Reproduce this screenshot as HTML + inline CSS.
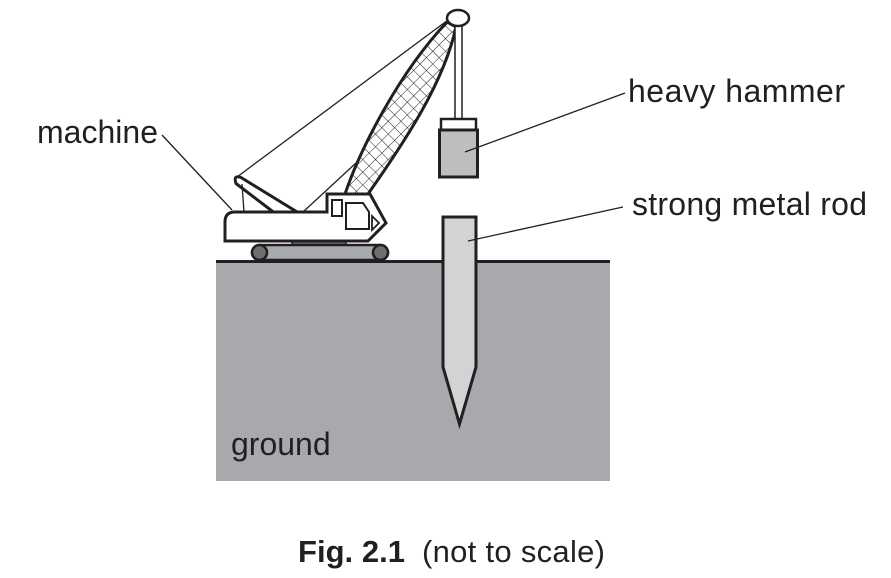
<!DOCTYPE html>
<html><head><meta charset="utf-8"><style>
html,body{margin:0;padding:0;background:#fff;}
svg{display:block;}
text{font-family:"Liberation Sans",Arial,sans-serif;fill:#231f20;}
</style></head><body>
<svg width="891" height="578" viewBox="0 0 891 578" xmlns="http://www.w3.org/2000/svg">
<defs>
<pattern id="hatch" patternUnits="userSpaceOnUse" width="9" height="9" patternTransform="rotate(45)">
<rect width="9" height="9" fill="#fff"/>
<path d="M0,0 H9 M0,0 V9" stroke="#231f20" stroke-width="1" fill="none"/>
</pattern>
</defs>
<!-- ground -->
<rect x="216" y="262" width="394" height="219" fill="#a7a9ac"/>
<line x1="216" y1="261.5" x2="610" y2="261.5" stroke="#231f20" stroke-width="3"/>
<text x="231" y="455" font-size="32">ground</text>

<!-- backstay -->
<line x1="237" y1="177" x2="448" y2="20" stroke="#231f20" stroke-width="1.3"/>
<line x1="303" y1="212" x2="356" y2="163" stroke="#231f20" stroke-width="1.3"/>

<!-- boom -->
<path d="M345,194 C360,150 398,74 447,22 L456,27 C444,82 406,140 368,194 Z" fill="url(#hatch)" stroke="#231f20" stroke-width="3" stroke-linejoin="round"/>

<!-- cable -->
<rect x="455" y="24" width="7" height="95" fill="#fff" stroke="#231f20" stroke-width="1.5"/>
<!-- pulley -->
<ellipse cx="458" cy="18" rx="11" ry="8" fill="#fff" stroke="#231f20" stroke-width="2.5"/>

<!-- hammer -->
<rect x="441" y="119" width="35" height="11" fill="#fff" stroke="#231f20" stroke-width="2.5"/>
<rect x="439.5" y="130" width="38" height="47" fill="#bcbec0" stroke="#231f20" stroke-width="3"/>

<!-- rod -->
<path d="M443,217 L476,217 L476,367 L459.5,424 L443,367 Z" fill="#d1d3d4" stroke="#231f20" stroke-width="3" stroke-linejoin="miter"/>

<!-- gantry -->
<path d="M298,212.5 L241,177.5 Q233,174.5 236,183.5 L274,212.5" fill="#fff" stroke="#231f20" stroke-width="3" stroke-linejoin="round"/>
<line x1="242" y1="184" x2="244" y2="212" stroke="#231f20" stroke-width="1.3"/>

<!-- track strip -->
<rect x="292" y="240.5" width="54" height="4.5" fill="#6d6e71" stroke="#231f20" stroke-width="1.5"/>
<!-- tracks -->
<rect x="252" y="245" width="136" height="15" rx="7.5" fill="#a7a9ac" stroke="#231f20" stroke-width="2.5"/>
<circle cx="259.5" cy="252.5" r="7.5" fill="#6d6e71" stroke="#231f20" stroke-width="2.5"/>
<circle cx="380.5" cy="252.5" r="7.5" fill="#6d6e71" stroke="#231f20" stroke-width="2.5"/>

<!-- body -->
<path d="M235,212 L327,212 L327,194 L370,194 L386,223 L368,241 L225,241 L225,222 Q225,212 235,212 Z" fill="#fff" stroke="#231f20" stroke-width="3" stroke-linejoin="miter"/>
<rect x="332" y="200" width="10" height="16" fill="#fff" stroke="#231f20" stroke-width="2"/>
<path d="M346,203 L363,203 L369,212 L369,229 L346,229 Z" fill="#fff" stroke="#231f20" stroke-width="2"/>
<path d="M372,216 L372,230 L379,223 Z" fill="#fff" stroke="#231f20" stroke-width="1.8"/>

<!-- leaders -->
<line x1="162" y1="135" x2="232" y2="210" stroke="#231f20" stroke-width="1.3"/>
<line x1="465" y1="152" x2="625" y2="93" stroke="#231f20" stroke-width="1.3"/>
<line x1="468" y1="241" x2="623" y2="207" stroke="#231f20" stroke-width="1.3"/>

<!-- labels -->
<text x="37" y="143" font-size="32" textLength="121">machine</text>
<text x="628" y="102" font-size="32" textLength="217">heavy hammer</text>
<text x="632" y="215" font-size="32" textLength="235">strong metal rod</text>

<!-- caption -->
<text x="298" y="562" font-size="31" font-weight="bold" textLength="107">Fig. 2.1</text>
<text x="422" y="562" font-size="31" textLength="183">(not to scale)</text>
</svg>
</body></html>
